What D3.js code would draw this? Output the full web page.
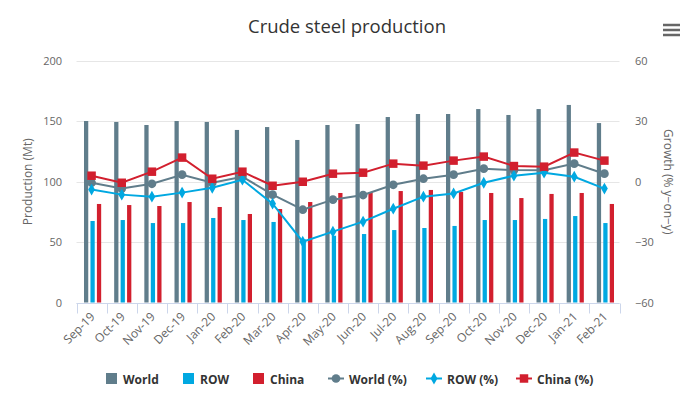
<!DOCTYPE html>
<html>
<head>
<meta charset="utf-8">
<script src="https://cdn.jsdelivr.net/npm/d3@7"></script>
<style>
  body { margin: 0; background: #fff; }
  svg { display: block; font-family: "Open Sans", "DejaVu Sans", sans-serif; }
</style>
</head>
<body>
<div id="chart"></div>
<script>
// Data
var months = ["Sep-19","Oct-19","Nov-19","Dec-19","Jan-20","Feb-20","Mar-20","Apr-20","May-20",
              "Jun-20","Jul-20","Aug-20","Sep-20","Oct-20","Nov-20","Dec-20","Jan-21","Feb-21"];
var worldProd = [150.3,149.5,147,150.3,149.5,142.9,145.3,134.6,147,147.8,153.6,156.1,156.1,160.2,155.3,160.2,163.6,148.6];
var rowProd   = [67.5,68.3,65.8,65.8,70,68.3,66.7,52.3,55.3,56.7,60,61.7,63.4,68.3,68.3,69.2,71.6,65.8];
var chinaProd = [81.6,80.7,79.9,83.2,79.1,73.3,77.4,83.2,90.7,91.5,92.3,93.2,91.5,90.7,86.5,89.9,90.7,81.6];
var worldGrowth = [-0.5,-3.4,-1,3.5,-0.5,2.5,-6.4,-13.9,-8.9,-6.6,-1.5,1.5,3.5,6.5,5.8,5.7,9,4];
var rowGrowth   = [-3.9,-6.4,-7.4,-5.4,-3,1,-10.9,-29.8,-24.8,-19.8,-13.4,-7.4,-5.8,-0.5,3,4.5,2.5,-3.4];
var chinaGrowth = [3,-0.5,5,12,1.5,5,-2,0,4,4.5,9,8,10.5,12.5,7.8,7.5,14.5,10.5];
var leftTicks = [0,50,100,150,200];
var rightTicks = [-60,-30,0,30,60];

var w=690, h=395;
var pad={top:61, bottom:92.5, left:76.5, right:70.5};
var colors={world:"#607d8b", row:"#00a8e1", china:"#d21f2e"};

var svg=d3.select("#chart").append("svg").attr("width",w).attr("height",h);

var xScale=d3.scaleBand().domain(months).range([pad.left,w-pad.right]).padding(0);
var subScale=d3.scaleBand().domain(["world","row","china"])
               .range([7.5,xScale.bandwidth()-7.5+2]).paddingInner(0.34).paddingOuter(0);
var yLeft=d3.scaleLinear().domain([0,200]).range([h-pad.bottom,pad.top]);
var yRight=d3.scaleLinear().domain([-60,60]).range([h-pad.bottom,pad.top]);

//Title
svg.append("text").attr("x",w/2+2).attr("y",33).attr("text-anchor","middle")
   .attr("font-size","18.5px").attr("fill","#333").text("Crude steel production");

//Menu icon
[25,30,35].forEach(function(y){
  svg.append("line").attr("x1",663).attr("x2",680).attr("y1",y).attr("y2",y)
     .attr("stroke","#666").attr("stroke-width",2.5);
});

//Grid lines
svg.append("g").selectAll("line").data(leftTicks).enter().append("line")
   .attr("x1",pad.left).attr("x2",w-pad.right)
   .attr("y1",function(d){return Math.round(yLeft(d))+0.5;})
   .attr("y2",function(d){return Math.round(yLeft(d))+0.5;})
   .attr("stroke","#e6e6e6");

//Left axis labels
svg.append("g").selectAll("text").data(leftTicks).enter().append("text")
   .attr("x",62).attr("y",function(d){return yLeft(d)+4;})
   .attr("text-anchor","end").attr("font-size","11px").attr("fill","#666")
   .text(function(d){return d;});

//Right axis labels
svg.append("g").selectAll("text").data(rightTicks).enter().append("text")
   .attr("x",635).attr("y",function(d){return yRight(d)+4;})
   .attr("text-anchor","start").attr("font-size","11px").attr("fill","#666")
   .text(function(d){return d<0 ? "\u2212"+Math.abs(d) : d;});

//Axis titles
svg.append("text")
   .attr("transform","translate(32,"+((pad.top+h-pad.bottom)/2)+")rotate(-90)")
   .attr("text-anchor","middle").attr("font-size","12px").attr("fill","#666")
   .text("Production (Mt)");
svg.append("text")
   .attr("transform","translate(664,"+((pad.top+h-pad.bottom)/2)+")rotate(90)")
   .attr("text-anchor","middle").attr("font-size","12px").attr("fill","#666")
   .text("Growth (% y\u2212on\u2212y)");

//Bars
var series=[{key:"world",vals:worldProd},{key:"row",vals:rowProd},{key:"china",vals:chinaProd}];
series.forEach(function(s){
  svg.append("g").selectAll("rect").data(s.vals).enter().append("rect")
     .attr("x",function(d,i){return xScale(months[i])+subScale(s.key);})
     .attr("y",function(d){return yLeft(d);})
     .attr("width",subScale.bandwidth())
     .attr("height",function(d){return yLeft(0)-yLeft(d);})
     .attr("fill",colors[s.key]);
});

//X axis
var x0=Math.round(yLeft(0))+0.5;
svg.append("line").attr("x1",pad.left).attr("x2",w-pad.right).attr("y1",x0).attr("y2",x0)
   .attr("stroke","#ccd6eb");
svg.append("g").selectAll("line").data(d3.range(months.length+1)).enter().append("line")
   .attr("x1",function(i){return Math.round(pad.left+i*xScale.bandwidth())+0.5;})
   .attr("x2",function(i){return Math.round(pad.left+i*xScale.bandwidth())+0.5;})
   .attr("y1",x0).attr("y2",x0+10).attr("stroke","#ccd6eb");
svg.append("g").selectAll("text").data(months).enter().append("text")
   .attr("transform",function(d){return "translate("+(xScale(d)+xScale.bandwidth()/2+4)+","+(x0+14)+")rotate(-45)";})
   .attr("text-anchor","end").attr("font-size","12px").attr("fill","#666")
   .text(function(d){return d;});

//Growth lines
var cx=function(i){return xScale(months[i])+xScale.bandwidth()/2;};
var line=d3.line().x(function(d,i){return cx(i);}).y(function(d){return yRight(d);});
var growth=[{key:"world",vals:worldGrowth,shape:d3.symbolCircle,size:60},
            {key:"row",vals:rowGrowth,shape:d3.symbolDiamond,size:40},
            {key:"china",vals:chinaGrowth,shape:d3.symbolSquare,size:72}];
growth.forEach(function(g){
  svg.append("path").datum(g.vals).attr("d",line).attr("fill","none")
     .attr("stroke",colors[g.key]).attr("stroke-width",2);
  svg.append("g").selectAll("path").data(g.vals).enter().append("path")
     .attr("d",d3.symbol().type(g.shape).size(g.size))
     .attr("transform",function(d,i){return "translate("+cx(i)+","+yRight(d)+")";})
     .attr("fill",colors[g.key]);
});

//Legend
var legend=svg.append("g").attr("font-size","12px").attr("font-weight","bold").attr("fill","#333");
var barItems=[{key:"world",label:"World",x:106},{key:"row",label:"ROW",x:183},{key:"china",label:"China",x:253}];
barItems.forEach(function(it){
  legend.append("rect").attr("x",it.x).attr("y",373).attr("width",11).attr("height",11).attr("fill",colors[it.key]);
  legend.append("text").attr("x",it.x+17).attr("y",383.5).text(it.label);
});
var lineItems=[{key:"world",label:"World (%)",x:328,shape:d3.symbolCircle,size:60},
               {key:"row",label:"ROW (%)",x:426,shape:d3.symbolDiamond,size:40},
               {key:"china",label:"China (%)",x:516,shape:d3.symbolSquare,size:72}];
lineItems.forEach(function(it){
  legend.append("line").attr("x1",it.x).attr("x2",it.x+16).attr("y1",378.5).attr("y2",378.5)
        .attr("stroke",colors[it.key]).attr("stroke-width",2);
  legend.append("path").attr("d",d3.symbol().type(it.shape).size(it.size))
        .attr("transform","translate("+(it.x+8)+",378.5)").attr("fill",colors[it.key]);
  legend.append("text").attr("x",it.x+21).attr("y",383.5).text(it.label);
});
</script>
</body>
</html>
